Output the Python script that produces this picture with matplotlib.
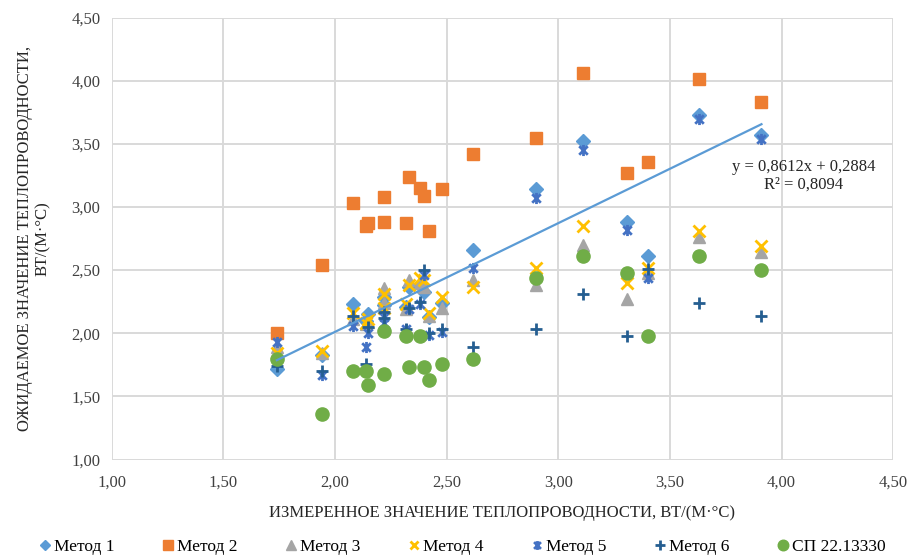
import numpy as np
import matplotlib
matplotlib.use("Agg")
import matplotlib.pyplot as plt
from matplotlib.path import Path


# measured thermal conductivity (x), one value per sample
measured = [1.74, 1.94, 2.08, 2.14, 2.15, 2.22, 2.22, 2.32, 2.33, 2.38,
            2.40, 2.42, 2.48, 2.62, 2.90, 3.11, 3.31, 3.40, 3.63, 3.91]

# expected values for every method (same order as measured)
method_1 = [1.72, 1.83, 2.23, 2.10, 2.15, 2.29, 2.22, 2.21, 2.37, 2.38,
            2.33, 2.13, 2.24, 2.66, 3.14, 3.52, 2.88, 2.61, 3.73, 3.57]
method_2 = [2.00, 2.54, 3.03, 2.85, 2.87, 3.08, 2.88, 2.87, 3.24, 3.15,
            3.09, 2.81, 3.14, 3.42, 3.55, 4.06, 3.27, 3.36, 4.01, 3.83]
method_3 = [1.89, 1.84, 2.11, 2.07, 2.09, 2.36, 2.24, 2.19, 2.42, 2.40,
            2.37, 2.14, 2.20, 2.42, 2.38, 2.70, 2.27, 2.48, 2.76, 2.64]
method_4 = [1.84, 1.86, 2.16, 2.08, 2.11, 2.31, 2.20, 2.23, 2.38, 2.44,
            2.42, 2.16, 2.29, 2.37, 2.52, 2.85, 2.40, 2.52, 2.81, 2.69]
method_5 = [1.93, 1.67, 2.06, 1.89, 2.00, 2.13, 2.08, 2.03, 2.19, 2.23,
            2.46, 1.99, 2.01, 2.52, 3.07, 3.45, 2.82, 2.44, 3.70, 3.54]
method_6 = [1.74, 1.70, 2.14, 1.76, 2.05, 2.17, 2.12, 2.03, 2.20, 2.25,
            2.50, 2.00, 2.03, 1.89, 2.03, 2.31, 1.98, 2.51, 2.24, 2.14]
sp_22 = [1.80, 1.36, 1.70, 1.70, 1.59, 2.02, 1.68, 1.98, 1.73, 1.98,
         1.73, 1.63, 1.76, 1.80, 2.44, 2.61, 2.48, 1.98, 2.61, 2.50]

series_names = ["Метод 1", "Метод 2", "Метод 3", "Метод 4",
                "Метод 5", "Метод 6", "СП 22.13330"]

# linear trendline reported on the chart
trend_slope = 0.8612
trend_intercept = 0.2884
trend_r2 = 0.8094

ticks = [1.0, 1.5, 2.0, 2.5, 3.0, 3.5, 4.0, 4.5]

# Excel-like "star" marker: an x with a vertical stroke
STAR = Path(
    [(-1, -1), (1, 1), (-1, 1), (1, -1), (0, -1.3), (0, 1.3)],
    [Path.MOVETO, Path.LINETO, Path.MOVETO, Path.LINETO,
     Path.MOVETO, Path.LINETO],
)


def comma(v):
    return f"{v:.2f}".replace(".", ",")


def draw_chart():
    """
    Scatter of expected vs measured conductivity with a trendline.
    """

    plt.rcParams["font.family"] = ["Liberation Serif", "DejaVu Serif"]

    fig = plt.figure(figsize=(9.11, 5.55), dpi=100)
    ax = fig.add_axes([0.1225, 0.172, 0.858, 0.7963])

    styles = [
        dict(marker="D", ms=7, color="#5b9bd5", mec="#5b9bd5"),
        dict(marker="s", ms=9, color="#ed7d31", mec="#ed7d31"),
        dict(marker="^", ms=9, color="#a5a5a5", mec="#a5a5a5"),
        dict(marker="x", ms=8, color="#ffc000", mec="#ffc000", mew=2),
        dict(marker=STAR, ms=8, color="#4472c4", mec="#4472c4",
             mfc="none", mew=2),
        dict(marker="+", ms=9, color="#255e91", mec="#255e91", mew=2),
        dict(marker="o", ms=9.5, color="#70ad47", mec="#70ad47"),
    ]
    data = [method_1, method_2, method_3, method_4,
            method_5, method_6, sp_22]

    for name, values, style in zip(series_names, data, styles):
        ax.plot(measured, values, linestyle="none", label=name, **style)

    # trendline
    x_line = np.array([min(measured), max(measured)])
    ax.plot(x_line, trend_slope * x_line + trend_intercept,
            color="#5b9bd5", lw=1.6, zorder=5)
    ax.text(4.10, 3.25,
            f"y = {trend_slope:.4f}x + {trend_intercept:.4f}".replace(".", ",")
            + "\n" + f"R² = {trend_r2:.4f}".replace(".", ","),
            ha="center", va="center", fontsize=12, color="#262626",
            linespacing=1.15, zorder=6)

    ax.set_xlim(1.0, 4.5)
    ax.set_ylim(1.0, 4.5)
    ax.set_xticks(ticks)
    ax.set_yticks(ticks)
    ax.set_xticklabels([comma(t) for t in ticks])
    ax.set_yticklabels([comma(t) for t in ticks])
    ax.tick_params(length=0, labelsize=12, labelcolor="#404040")
    ax.tick_params(axis="x", pad=11)
    ax.tick_params(axis="y", pad=8)

    for spine in ax.spines.values():
        spine.set_visible(False)
    ax.grid(True, color="#d9d9d9", lw=1.4)
    ax.set_axisbelow(True)

    ax.set_xlabel("ИЗМЕРЕННОЕ ЗНАЧЕНИЕ ТЕПЛОПРОВОДНОСТИ, ВТ/(М·°С)",
                  fontsize=12, color="#262626", labelpad=10)
    ax.set_ylabel("ОЖИДАЕМОЕ ЗНАЧЕНИЕ ТЕПЛОПРОВОДНОСТИ,\nВТ/(М·°С)",
                  fontsize=12, color="#262626", labelpad=15,
                  linespacing=1.1)

    fig.legend(loc="lower center", bbox_to_anchor=(0.508, -0.028),
               ncol=7, frameon=False, fontsize=12.5, handlelength=0.6,
               handletextpad=0.2, columnspacing=2.8, markerscale=0.8)

    fig.savefig("out.png", dpi=100)


if __name__ == "__main__":
    draw_chart()
